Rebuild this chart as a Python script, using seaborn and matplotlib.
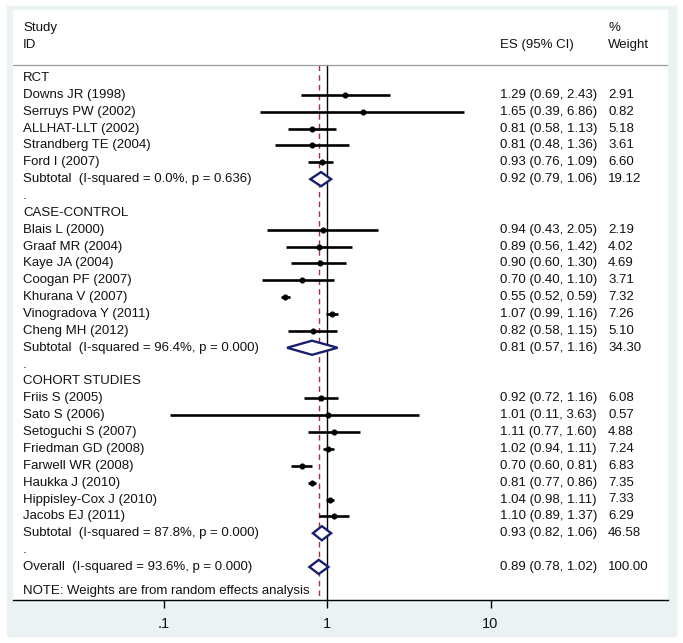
import numpy as np
import pandas as pd
import matplotlib
matplotlib.use("Agg")
import matplotlib.pyplot as plt
from matplotlib.patches import Polygon, Rectangle
import seaborn as sns

# Study-level data (ES, 95% CI, % weight)
rct_names = ["Downs JR (1998)", "Serruys PW (2002)", "ALLHAT-LLT (2002)",
             "Strandberg TE (2004)", "Ford I (2007)"]
rct_es = [1.29, 1.65, 0.81, 0.81, 0.93]
rct_lo = [0.69, 0.39, 0.58, 0.48, 0.76]
rct_hi = [2.43, 6.86, 1.13, 1.36, 1.09]
rct_w = [2.91, 0.82, 5.18, 3.61, 6.60]
rct_sub = (0.92, 0.79, 1.06, 19.12, "Subtotal  (I-squared = 0.0%, p = 0.636)")

cc_names = ["Blais L (2000)", "Graaf MR (2004)", "Kaye JA (2004)", "Coogan PF (2007)",
            "Khurana V (2007)", "Vinogradova Y (2011)", "Cheng MH (2012)"]
cc_es = [0.94, 0.89, 0.90, 0.70, 0.55, 1.07, 0.82]
cc_lo = [0.43, 0.56, 0.60, 0.40, 0.52, 0.99, 0.58]
cc_hi = [2.05, 1.42, 1.30, 1.10, 0.59, 1.16, 1.15]
cc_w = [2.19, 4.02, 4.69, 3.71, 7.32, 7.26, 5.10]
cc_sub = (0.81, 0.57, 1.16, 34.30, "Subtotal  (I-squared = 96.4%, p = 0.000)")

co_names = ["Friis S (2005)", "Sato S (2006)", "Setoguchi S (2007)", "Friedman GD (2008)",
            "Farwell WR (2008)", "Haukka J (2010)", "Hippisley-Cox J (2010)", "Jacobs EJ (2011)"]
co_es = [0.92, 1.01, 1.11, 1.02, 0.70, 0.81, 1.04, 1.10]
co_lo = [0.72, 0.11, 0.77, 0.94, 0.60, 0.77, 0.98, 0.89]
co_hi = [1.16, 3.63, 1.60, 1.11, 0.81, 0.86, 1.11, 1.37]
co_w = [6.08, 0.57, 4.88, 7.24, 6.83, 7.35, 7.33, 6.29]
co_sub = (0.93, 0.82, 1.06, 46.58, "Subtotal  (I-squared = 87.8%, p = 0.000)")

overall = (0.89, 0.78, 1.02, 100.00, "Overall  (I-squared = 93.6%, p = 0.000)")

groups = [("RCT", rct_names, rct_es, rct_lo, rct_hi, rct_w, rct_sub),
          ("CASE-CONTROL", cc_names, cc_es, cc_lo, cc_hi, cc_w, cc_sub),
          ("COHORT STUDIES", co_names, co_es, co_lo, co_hi, co_w, co_sub)]

# build row table
rows = []
for title, names, es, lo, hi, w, sub in groups:
    rows.append(dict(label=title, kind="head"))
    for n, e, l, h, ww in zip(names, es, lo, hi, w):
        rows.append(dict(label=n, kind="study", es=e, lo=l, hi=h, w=ww))
    rows.append(dict(label=sub[4], kind="pool", es=sub[0], lo=sub[1], hi=sub[2], w=sub[3]))
    rows.append(dict(label=".", kind="blank"))
rows.append(dict(label=overall[4], kind="pool", es=overall[0], lo=overall[1],
                 hi=overall[2], w=overall[3]))
df = pd.DataFrame(rows)
df["y"] = np.arange(len(df))

sns.set_style("white")
plt.rcParams["font.family"] = ["Liberation Sans", "DejaVu Sans"]

W, H = 683, 643
fig = plt.figure(figsize=(W / 100, H / 100), dpi=100)
fig.patches.append(Rectangle((7 / W, (H - 636) / H), (676 - 7) / W, (636 - 6) / H,
                             transform=fig.transFigure, color="#eaf2f3", zorder=-5))
ax = fig.add_axes([13 / W, (H - 600) / H, (668 - 13) / W, (600 - 10) / H])
ax.set_facecolor("white")

row_h = 16.86
ax.set_xscale("log")
ax.set_xlim(10 ** ((13 - 327) / 163.5), 10 ** ((668 - 327) / 163.5))
ax.set_ylim((600 - 78) / row_h, (10 - 78) / row_h)

txt = "#111111"
fs = 9.5
ymax = (600 - 78) / row_h
head_line = (65 - 78) / row_h

# reference lines
ax.plot([1, 1], [head_line, ymax], color="black", lw=1.0, zorder=2)
ax.plot([overall[0], overall[0]], [head_line, ymax], color="#a8323e", lw=1.0,
        dashes=(4, 3), zorder=2)
ax.plot(ax.get_xlim(), [head_line, head_line], color="#9a9a9a", lw=0.9, zorder=2)

# study CIs and point estimates
st = df[df.kind == "study"]
ax.hlines(st.y, st.lo, st.hi, color="black", lw=1.9, zorder=3)
sns.scatterplot(data=st, x="es", y="y", ax=ax, color="black", s=16, marker="o",
                edgecolor="black", linewidth=0.3, zorder=4, legend=False)

# pooled diamonds
for _, r in df[df.kind == "pool"].iterrows():
    dh = 0.42
    poly = Polygon([(r.lo, r.y), (r.es, r.y - dh), (r.hi, r.y), (r.es, r.y + dh)],
                   closed=True, facecolor="white", edgecolor="#18206e", lw=1.7, zorder=4)
    ax.add_patch(poly)

# text columns
tx = ax.get_yaxis_transform()
for _, r in df.iterrows():
    ax.text(0.0153, r.y, r.label, transform=tx, fontsize=fs, color=txt, va="center")
    if r.kind in ("study", "pool"):
        ax.text(0.7435, r.y, f"{r.es:.2f} ({r.lo:.2f}, {r.hi:.2f})", transform=tx,
                fontsize=fs, color=txt, va="center")
        ax.text(0.9084, r.y, f"{r.w:.2f}", transform=tx, fontsize=fs, color=txt,
                va="center")

ax.text(0.0153, -2.97, "Study", transform=tx, fontsize=fs, color=txt, va="center")
ax.text(0.0153, -1.96, "ID", transform=tx, fontsize=fs, color=txt, va="center")
ax.text(0.7435, -1.96, "ES (95% CI)", transform=tx, fontsize=fs, color=txt, va="center")
ax.text(0.9084, -2.97, "%", transform=tx, fontsize=fs, color=txt, va="center")
ax.text(0.9084, -1.96, "Weight", transform=tx, fontsize=fs, color=txt, va="center")
ax.text(0.0153, (591 - 78) / row_h, "NOTE: Weights are from random effects analysis",
        transform=tx, fontsize=fs, color=txt, va="center")

# axis styling
for s in ("top", "left", "right"):
    ax.spines[s].set_visible(False)
ax.spines["bottom"].set_color("black")
ax.spines["bottom"].set_linewidth(1.0)
ax.set_yticks([])
ax.set_xticks([0.1, 1, 10])
ax.set_xticklabels([".1", "1", "10"])
ax.xaxis.set_minor_locator(matplotlib.ticker.NullLocator())
ax.tick_params(axis="x", direction="out", length=6, width=1, color="black",
               labelsize=10.5, labelcolor=txt, pad=6, bottom=True)
ax.set_xlabel("")
ax.set_ylabel("")

fig.savefig("out.png", dpi=100, facecolor="white")
